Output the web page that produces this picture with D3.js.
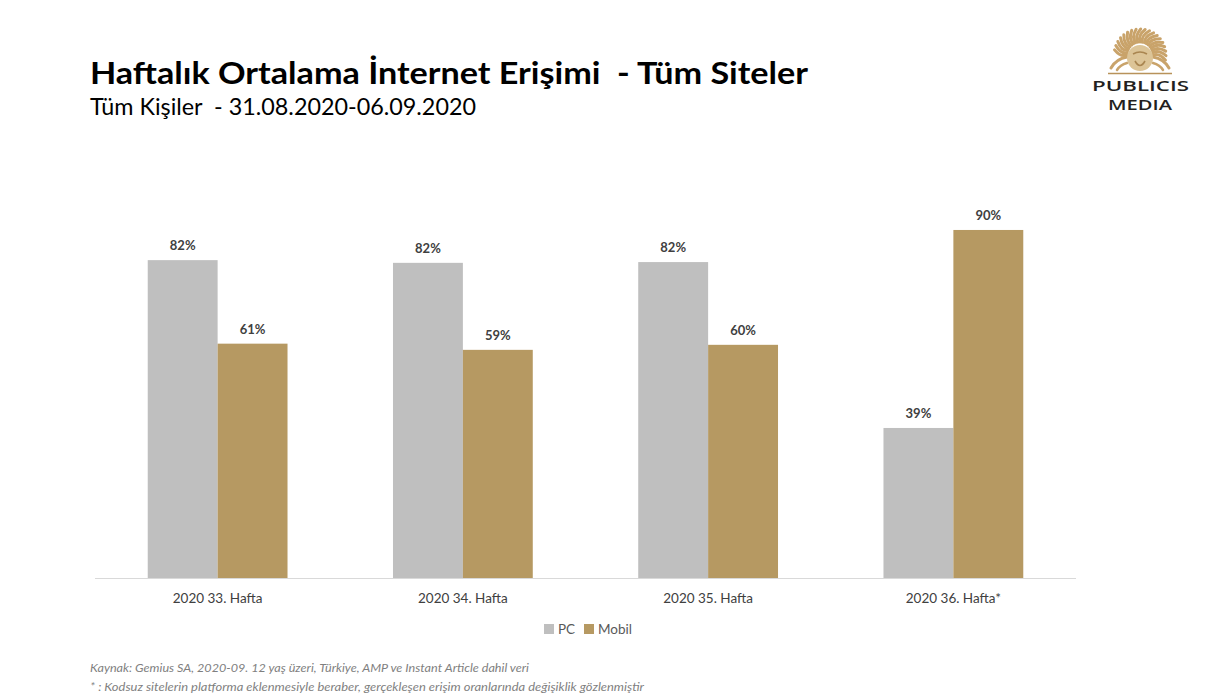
<!DOCTYPE html>
<html><head><meta charset="utf-8">
<script src="https://cdn.jsdelivr.net/npm/d3@7"></script>
<style>body{margin:0;background:#fff}svg{display:block}text{white-space:pre}</style>
</head><body>
<svg id="c" width="1225" height="695"></svg>
<script>
const categories = ["2020 33. Hafta", "2020 34. Hafta", "2020 35. Hafta", "2020 36. Hafta*"];
const seriesNames = ["PC", "Mobil"];
const pcValues = [0.822, 0.815, 0.817, 0.388];
const mobilValues = [0.606, 0.590, 0.603, 0.900];
const colors = ["#bfbfbf", "#b69962"];

const svg = d3.select("#c");
const font = "Lato, 'Open Sans', sans-serif";

// Title
svg.append("text").attr("x", 90).attr("y", 84).attr("font-family", font).attr("font-weight", 700)
  .attr("font-size", 31).attr("fill", "#000").attr("textLength", 718).attr("lengthAdjust", "spacingAndGlyphs")
  .text("Haftalık Ortalama İnternet Erişimi  - Tüm Siteler");
svg.append("text").attr("x", 90).attr("y", 115).attr("font-family", font)
  .attr("font-size", 22.5).attr("fill", "#000").attr("textLength", 386).attr("lengthAdjust", "spacingAndGlyphs")
  .text("Tüm Kişiler  - 31.08.2020-06.09.2020");

// Chart
const x0 = d3.scaleBand().domain(categories).range([95, 1076]).paddingInner(0.43).paddingOuter(0.215);
const x1 = d3.scaleBand().domain(seriesNames).range([0, x0.bandwidth()]);
const y = d3.scaleLinear().domain([0, 1]).range([578, 578 - 386.7]);

const data = categories.map((c, i) => ({cat: c, vals: [pcValues[i], mobilValues[i]]}));

const g = svg.append("g");
const groups = g.selectAll("g.grp").data(data).join("g").attr("transform", d => `translate(${x0(d.cat)},0)`);
groups.selectAll("rect").data(d => d.vals.map((v, k) => ({s: seriesNames[k], v, k})))
  .join("rect").attr("x", d => x1(d.s)).attr("width", x1.bandwidth())
  .attr("y", d => y(d.v)).attr("height", d => y(0) - y(d.v)).attr("fill", d => colors[d.k]);
groups.selectAll("text").data(d => d.vals.map((v, k) => ({s: seriesNames[k], v, k})))
  .join("text").attr("x", d => x1(d.s) + x1.bandwidth() / 2).attr("y", d => y(d.v) - 10)
  .attr("text-anchor", "middle").attr("font-family", font).attr("font-weight", 700)
  .attr("font-size", 13).attr("fill", "#404040").text(d => Math.round(d.v * 100) + "%");

// Axis
const ax = svg.append("g").attr("transform", `translate(0,${y(0)})`)
  .call(d3.axisBottom(x0).tickSize(0).tickPadding(15));
ax.select(".domain").attr("stroke", "#d9d9d9").attr("d", "M95,0.5H1076");
ax.selectAll("text").attr("font-family", font).attr("font-size", 13.5).attr("fill", "#404040");

// Legend
const leg = svg.append("g");
const legX = [544, 584];
seriesNames.forEach((s, k) => {
  leg.append("rect").attr("x", legX[k]).attr("y", 624).attr("width", 10).attr("height", 10).attr("fill", colors[k]);
  leg.append("text").attr("x", legX[k] + 14).attr("y", 634).attr("font-family", font)
    .attr("font-size", 13.5).attr("fill", "#595959").text(s);
});

// Footnotes
svg.append("text").attr("x", 90).attr("y", 672).attr("font-family", font).attr("font-style", "italic")
  .attr("font-size", 11.5).attr("fill", "#7f7f7f").attr("textLength", 439).attr("lengthAdjust", "spacingAndGlyphs")
  .text("Kaynak: Gemius SA, 2020-09. 12 yaş üzeri, Türkiye, AMP ve Instant Article dahil veri");
svg.append("text").attr("x", 90).attr("y", 691).attr("font-family", font).attr("font-style", "italic")
  .attr("font-size", 11.5).attr("fill", "#7f7f7f").attr("textLength", 554).attr("lengthAdjust", "spacingAndGlyphs")
  .text("* : Kodsuz sitelerin platforma eklenmesiyle beraber, gerçekleşen erişim oranlarında değişiklik gözlenmiştir");

// Logo
const logo = svg.append("g").attr("transform", "translate(1140,55)");
const gold = "#c9a36a";
d3.range(0, 19).forEach(i => {
  const a = Math.PI * 1.0 + (i / 18) * Math.PI * 1.0;
  const r1 = 13, r2 = 26;
  const ax1 = Math.cos(a) * r1, ay1 = Math.sin(a) * r1;
  const ax2 = Math.cos(a + 0.2) * r2, ay2 = Math.sin(a + 0.2) * r2;
  logo.append("path").attr("d", `M${ax1},${ay1} Q${(ax1+ax2)/2 + Math.sin(a)*5},${(ay1+ay2)/2 - Math.cos(a)*5} ${ax2},${ay2}`)
    .attr("stroke", gold).attr("stroke-width", 3).attr("fill", "none").attr("stroke-linecap", "round");
});
[-1, 1].forEach(s => {
  logo.append("path").attr("d", `M${s*13},2 Q${s*24},4 ${s*29},13`).attr("stroke", gold).attr("stroke-width", 3)
    .attr("fill", "none").attr("stroke-linecap", "round");
  logo.append("path").attr("d", `M${s*13},8 Q${s*20},10 ${s*23},15`).attr("stroke", gold).attr("stroke-width", 2.5)
    .attr("fill", "none").attr("stroke-linecap", "round");
});
logo.append("circle").attr("cx", 0).attr("cy", 3).attr("r", 13).attr("fill", "#dcc497");
logo.append("path").attr("d", "M-7,-1 Q0,-5 7,-1 M-5,6 Q0,15 5,6").attr("stroke", "#a98550").attr("stroke-width", 1.6).attr("fill", "none");
logo.append("line").attr("x1", -32).attr("x2", 32).attr("y1", 18.5).attr("y2", 18.5).attr("stroke", "#b8925a").attr("stroke-width", 1.3);
svg.append("text").attr("x", 1092).attr("y", 91).attr("font-family", "'Open Sans', sans-serif").attr("font-weight", 600)
  .attr("font-size", 15).attr("fill", "#231f20").attr("textLength", 97).attr("lengthAdjust", "spacingAndGlyphs").text("PUBLICIS");
svg.append("text").attr("x", 1108).attr("y", 110).attr("font-family", "'Open Sans', sans-serif").attr("font-weight", 600)
  .attr("font-size", 15).attr("fill", "#231f20").attr("textLength", 64).attr("lengthAdjust", "spacingAndGlyphs").text("MEDIA");
</script>
</body></html>
